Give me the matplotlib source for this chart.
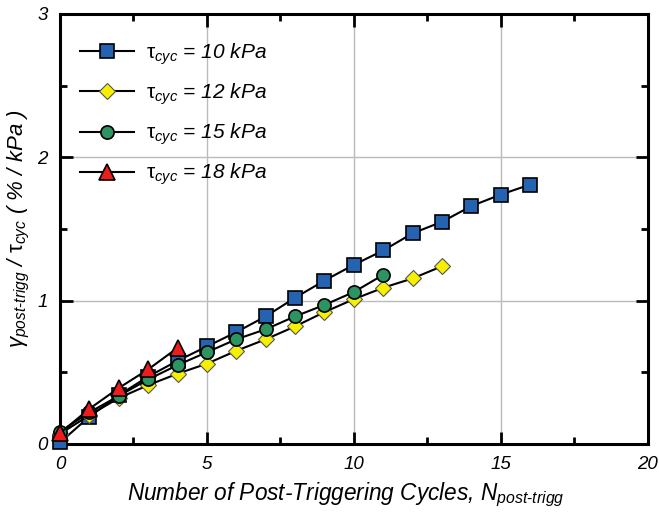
import matplotlib
matplotlib.use("Agg")
import matplotlib.pyplot as plt
from matplotlib.ticker import MultipleLocator

plt.rcParams["font.family"] = ["Liberation Sans", "DejaVu Sans"]
plt.rcParams["mathtext.fontset"] = "custom"
plt.rcParams["mathtext.rm"] = "Liberation Sans"
plt.rcParams["mathtext.it"] = "Liberation Sans:italic"
plt.rcParams["mathtext.bf"] = "Liberation Sans:bold"

# cycles after triggering
n_10 = [0, 1, 2, 3, 4, 5, 6, 7, 8, 9, 10, 11, 12, 13, 14, 15, 16]
n_12 = [0, 1, 2, 3, 4, 5, 6, 7, 8, 9, 10, 11, 12, 13]
n_15 = [0, 1, 2, 3, 4, 5, 6, 7, 8, 9, 10, 11]
n_18 = [0, 1, 2, 3, 4]

# gamma / tau (% / kPa)
g_10 = [0.01, 0.19, 0.34, 0.47, 0.58, 0.68, 0.78, 0.89, 1.02, 1.14, 1.25, 1.35, 1.47, 1.55, 1.66, 1.74, 1.81]
g_12 = [0.07, 0.20, 0.32, 0.41, 0.49, 0.56, 0.65, 0.73, 0.82, 0.92, 1.01, 1.09, 1.155, 1.24]
g_15 = [0.085, 0.22, 0.335, 0.45, 0.55, 0.64, 0.73, 0.80, 0.89, 0.97, 1.06, 1.18]
g_18 = [0.075, 0.245, 0.39, 0.52, 0.67]

labels = [r"$\mathrm{\tau}_{cyc}$ = 10 kPa", r"$\mathrm{\tau}_{cyc}$ = 12 kPa",
          r"$\mathrm{\tau}_{cyc}$ = 15 kPa", r"$\mathrm{\tau}_{cyc}$ = 18 kPa"]

fig = plt.figure(figsize=(6.59, 5.18), dpi=100)
ax = fig.add_axes([0.091, 0.143, 0.892, 0.830])

ax.plot(n_10, g_10, "-s", color="black", lw=1.5, ms=10, mfc="#2563b0", mec="black", mew=1.2,
        label=labels[0], clip_on=False, zorder=3)
ax.plot(n_12, g_12, "-D", color="black", lw=1.5, ms=8.5, mfc="#f6f000", mec="#555555", mew=0.8,
        label=labels[1], clip_on=False, zorder=4)
ax.plot(n_15, g_15, "-o", color="black", lw=1.5, ms=9.5, mfc="#2b9460", mec="black", mew=1.2,
        label=labels[2], clip_on=False, zorder=5)
ax.plot(n_18, g_18, "-^", color="black", lw=1.5, ms=11.5, mfc="#ee1c1c", mec="black", mew=1.2,
        label=labels[3], clip_on=False, zorder=6)

ax.set_xlim(0, 20)
ax.set_ylim(0, 3)
ax.xaxis.set_major_locator(MultipleLocator(5))
ax.xaxis.set_minor_locator(MultipleLocator(2.5))
ax.yaxis.set_major_locator(MultipleLocator(1))
ax.yaxis.set_minor_locator(MultipleLocator(0.5))
ax.grid(True, which="major", color="#bbbbbb", lw=1.0)
ax.set_axisbelow(True)

for s in ax.spines.values():
    s.set_linewidth(2.2)
ax.tick_params(which="both", direction="in", top=True, right=True, width=2)
ax.tick_params(which="major", length=9, labelsize=13.5, pad=9)
ax.tick_params(which="minor", length=5)
for t in ax.get_xticklabels() + ax.get_yticklabels():
    t.set_fontstyle("italic")

ax.set_xlabel(r"Number of Post-Triggering Cycles, $N_{post\text{-}trigg}$",
              fontsize=16.3, fontstyle="italic", labelpad=2)
ax.xaxis.set_label_coords(0.487, -0.085)
ax.set_ylabel(r"$\gamma_{post\text{-}trigg}$ / $\mathrm{\tau}_{cyc}$ ( % / kPa )",
              fontsize=16, fontstyle="italic")
ax.yaxis.set_label_coords(-0.048, 0.5)

leg = ax.legend(loc="upper left", frameon=False, fontsize=15, handlelength=2.6,
                handletextpad=0.55, labelspacing=0.7, borderaxespad=0.9,
                bbox_to_anchor=(-0.012, 0.999))
for t in leg.get_texts():
    t.set_fontstyle("italic")

fig.savefig("out.png", dpi=100)
